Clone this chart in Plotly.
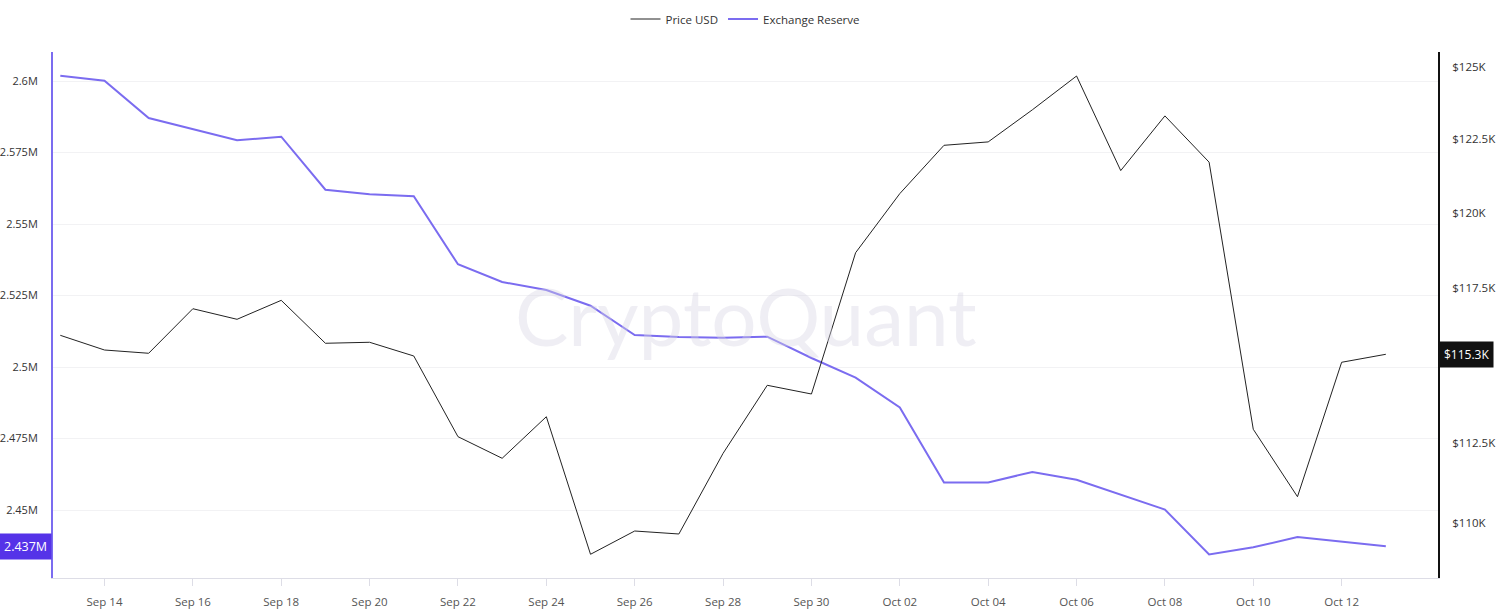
import plotly.graph_objects as go
import math

dates = ["2025-09-13", "2025-09-14", "2025-09-15", "2025-09-16", "2025-09-17", "2025-09-18",
         "2025-09-19", "2025-09-20", "2025-09-21", "2025-09-22", "2025-09-23", "2025-09-24",
         "2025-09-25", "2025-09-26", "2025-09-27", "2025-09-28", "2025-09-29", "2025-09-30",
         "2025-10-01", "2025-10-02", "2025-10-03", "2025-10-04", "2025-10-05", "2025-10-06",
         "2025-10-07", "2025-10-08", "2025-10-09", "2025-10-10", "2025-10-11", "2025-10-12",
         "2025-10-13"]

price_usd = [115942, 115466, 115360, 116810, 116464, 117085, 115684, 115716, 115272, 112694,
             112013, 113326, 109039, 109753, 109661, 112169, 114329, 114050, 118659, 120641,
             122286, 122402, 123509, 124685, 121422, 123298, 121709, 112928, 110813, 115069,
             115327]

exchange_reserve = [2601850, 2600100, 2587060, 2583220, 2579270, 2580520, 2561990, 2560380,
                    2559690, 2535910, 2529720, 2526920, 2521430, 2511190, 2510490, 2510240,
                    2510590, 2503150, 2496260, 2485870, 2459650, 2459650, 2463290, 2460600,
                    2455490, 2450170, 2434440, 2436960, 2440560, 2438920, 2437310]

x_ticks = ["2025-09-14", "2025-09-16", "2025-09-18", "2025-09-20", "2025-09-22", "2025-09-24",
           "2025-09-26", "2025-09-28", "2025-09-30", "2025-10-02", "2025-10-04", "2025-10-06",
           "2025-10-08", "2025-10-10", "2025-10-12"]
x_tick_text = ["Sep 14", "Sep 16", "Sep 18", "Sep 20", "Sep 22", "Sep 24", "Sep 26", "Sep 28",
               "Sep 30", "Oct 02", "Oct 04", "Oct 06", "Oct 08", "Oct 10", "Oct 12"]
reserve_ticks = [2450000, 2475000, 2500000, 2525000, 2550000, 2575000, 2600000]
reserve_tick_text = ["2.45M", "2.475M", "2.5M", "2.525M", "2.55M", "2.575M", "2.6M"]
price_ticks = [110000, 112500, 117500, 120000, 122500, 125000]
price_tick_text = ["$110K", "$112.5K", "$117.5K", "$120K", "$122.5K", "$125K"]

PURPLE = "#7B6CF0"
FONT = "Open Sans"

fig = go.Figure()
fig.add_trace(go.Scatter(x=dates, y=price_usd, name="Price USD", mode="lines",
                         line=dict(color="#222222", width=1), yaxis="y2"))
fig.add_trace(go.Scatter(x=dates, y=exchange_reserve, name="Exchange Reserve", mode="lines",
                         line=dict(color=PURPLE, width=2), yaxis="y"))

fig.update_layout(
    width=1508, height=612,
    margin=dict(l=53, r=70, t=52, b=34),
    paper_bgcolor="white", plot_bgcolor="white",
    font=dict(family=FONT, size=12, color="#333333"),
    showlegend=True,
    legend=dict(orientation="h", x=0.5, xanchor="center", y=1 - 19 / 612, yref="container",
                yanchor="middle", font=dict(size=11.5, color="#333333"), itemwidth=30),
    xaxis=dict(type="date", range=["2025-09-12 20:02", "2025-10-14 04:20"],
               tickvals=x_ticks, ticktext=x_tick_text, automargin=False,
               showgrid=False, showline=True, linecolor="#dddde6", linewidth=1,
               ticks="outside", ticklen=7, tickcolor="#dddde6", ticklabelstandoff=6,
               tickfont=dict(size=11.5, color="#555555"), zeroline=False),
    yaxis=dict(range=[2426224, 2610140], tickvals=reserve_ticks, ticktext=reserve_tick_text,
               showgrid=True, gridcolor="#f2f2f4", gridwidth=1, automargin=False,
               showline=True, linecolor=PURPLE, linewidth=2, ticks="",
               ticklabelstandoff=11, tickfont=dict(size=11, color="#333333"), zeroline=False),
    yaxis2=dict(type="log", overlaying="y", side="right", automargin=False,
                range=[5.034694, 5.098736], tickvals=price_ticks, ticktext=price_tick_text,
                showgrid=False, showline=True, linecolor="#111111", linewidth=2, ticks="",
                ticklabelstandoff=10, tickfont=dict(size=11.5, color="#333333"), zeroline=False),
)

fig.add_annotation(text="CryptoQuant", xref="paper", yref="paper", x=0.5, y=0.5,
                   showarrow=False, font=dict(family="Lato", size=80, color="rgba(215,212,228,0.4)"))

fig.add_annotation(text="2.437M", xref="paper", yref="y", x=0, y=exchange_reserve[-1],
                   xanchor="right", yanchor="middle", showarrow=False, xshift=-1,
                   bgcolor="#5533E8", font=dict(color="white", size=12.5), borderpad=4)
fig.add_annotation(text="$115.3K", xref="paper", yref="y2", x=1, y=math.log10(price_usd[-1]),
                   xanchor="left", yanchor="middle", showarrow=False, xshift=1,
                   bgcolor="#111111", font=dict(color="white", size=12), borderpad=4)

fig.write_html("out.html", config={"displayModeBar": False},
               post_script="document.body.style.margin='0';")
